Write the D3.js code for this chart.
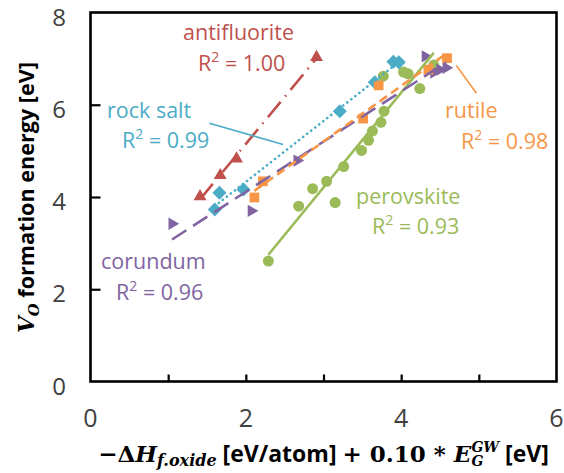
<!DOCTYPE html>
<html><head><meta charset="utf-8">
<script src="https://cdn.jsdelivr.net/npm/d3@7"></script>
<style>body{margin:0;background:#fff}svg{display:block}</style>
</head><body><svg id="c" width="564" height="473"></svg>
<script>
// ---- data ----
const antifluoriteX = [1.41, 1.67, 1.88, 2.91];
const antifluoriteY = [4.01, 4.47, 4.83, 7.03];
const rocksaltX = [1.60, 1.66, 1.97, 3.21, 3.66, 3.90, 3.97];
const rocksaltY = [3.73, 4.09, 4.16, 5.86, 6.49, 6.93, 6.92];
const rutileX = [2.11, 2.22, 3.51, 3.71, 4.35, 4.59];
const rutileY = [3.99, 4.34, 5.70, 6.42, 6.76, 7.01];
const corundumX = [1.05, 2.07, 2.66, 4.31, 4.42, 4.50, 4.58];
const corundumY = [3.42, 3.70, 4.79, 7.05, 6.70, 6.76, 6.80];
const perovskiteX = [2.29, 2.68, 2.86, 3.04, 3.15, 3.26, 3.49, 3.58, 3.63, 3.74, 3.78, 3.77, 4.03, 4.09, 4.24, 4.42];
const perovskiteY = [2.61, 3.80, 4.18, 4.34, 3.88, 4.66, 5.01, 5.23, 5.43, 5.62, 5.86, 6.62, 6.71, 6.67, 6.35, 6.86];
const seriesNames = ["perovskite", "corundum", "rock salt", "antifluorite", "rutile"];
const r2Values = ["0.93", "0.96", "0.99", "1.00", "0.98"];
const xTicks = [0, 1, 2, 3, 4, 5, 6];
const xTickLabels = ["0", "", "2", "", "4", "", "6"];
const yTicks = [0, 2, 4, 6, 8];
const yTickLabels = ["0", "2", "4", "6", "8"];

// ---- layout ----
const L = 90.5, R = 556.5, T = 12.5, B = 381.5;
const svg = d3.select("#c");
const x = d3.scaleLinear().domain([0, 6]).range([L, R]);
const y = d3.scaleLinear().domain([0, 8]).range([B, T]);
const SANS = "'Open Sans', Lato, sans-serif";
const SERIF = "'DejaVu Serif', 'Liberation Serif', serif";

const colors = {perovskite: "#9BBB59", corundum: "#8064A2", "rock salt": "#4BACC6", antifluorite: "#C0504D", rutile: "#F79646"};
const data = {
  perovskite: [perovskiteX, perovskiteY],
  corundum: [corundumX, corundumY],
  "rock salt": [rocksaltX, rocksaltY],
  antifluorite: [antifluoriteX, antifluoriteY],
  rutile: [rutileX, rutileY]
};
const dashes = {perovskite: null, corundum: "17,8", "rock salt": "0.1,5", antifluorite: "20,7,1.5,7", rutile: "9,5"};
const symbols = {
  perovskite: {type: d3.symbolCircle, size: 95, rot: 0},
  corundum: {type: d3.symbolTriangle, size: 66, rot: 90},
  "rock salt": {type: d3.symbolSquare, size: 98, rot: 45},
  antifluorite: {type: d3.symbolTriangle, size: 72, rot: 0},
  rutile: {type: d3.symbolSquare, size: 95, rot: 0}
};

function fit(xs, ys) {
  const mx = d3.mean(xs), my = d3.mean(ys);
  let sxy = 0, sxx = 0;
  xs.forEach((v, i) => { sxy += (v - mx) * (ys[i] - my); sxx += (v - mx) ** 2; });
  const m = sxy / sxx;
  return {m, b: my - m * mx};
}

// markers
seriesNames.forEach(name => {
  const [xs, ys] = data[name];
  const s = symbols[name];
  svg.append("g").selectAll("path").data(xs.map((v, i) => [v, ys[i]])).join("path")
    .attr("d", d3.symbol().type(s.type).size(s.size))
    .attr("transform", d => `translate(${x(d[0])},${y(d[1])}) rotate(${s.rot})`)
    .attr("fill", colors[name]);
});
// trendlines
seriesNames.forEach(name => {
  const [xs, ys] = data[name];
  const f = fit(xs, ys);
  const x0 = d3.min(xs), x1 = d3.max(xs);
  svg.append("line")
    .attr("x1", x(x0)).attr("y1", y(f.m * x0 + f.b))
    .attr("x2", x(x1)).attr("y2", y(f.m * x1 + f.b))
    .attr("stroke", colors[name]).attr("stroke-width", 2.6)
    .attr("stroke-linecap", name === "rock salt" ? "round" : "butt")
    .attr("stroke-dasharray", dashes[name]);
});

// frame + ticks
svg.append("rect").attr("x", L).attr("y", T).attr("width", R - L).attr("height", B - T)
  .attr("fill", "none").attr("stroke", "#000").attr("stroke-width", 2.6);
const xAxis = d3.axisTop(x).tickValues(xTicks.slice(1, -1)).tickSize(7).tickFormat("");
svg.append("g").attr("transform", `translate(0,${B})`).call(xAxis)
  .call(g => { g.select(".domain").remove(); g.selectAll("line").attr("stroke", "#000").attr("stroke-width", 2.2); });
const yAxis = d3.axisRight(y).tickValues(yTicks.slice(1, -1)).tickSize(10).tickFormat("");
svg.append("g").attr("transform", `translate(${L},0)`).call(yAxis)
  .call(g => { g.select(".domain").remove(); g.selectAll("line").attr("stroke", "#000").attr("stroke-width", 2.2); });

// tick labels
svg.append("g").selectAll("text").data(xTicks).join("text")
  .attr("x", d => x(d)).attr("y", 427).attr("text-anchor", "middle")
  .attr("font-family", SANS).attr("font-size", 25).attr("fill", "#404040")
  .text((d, i) => xTickLabels[i]);
svg.append("g").selectAll("text").data(yTicks).join("text")
  .attr("x", 66).attr("y", d => y(d) + 13).attr("text-anchor", "end")
  .attr("font-family", SANS).attr("font-size", 24).attr("fill", "#404040")
  .text((d, i) => yTickLabels[i]);

// series annotations (name line, R² line): left x and baseline y
const ann = {
  antifluorite: [[183, 40], [198, 71]],
  "rock salt": [[107, 118], [122, 148]],
  rutile: [[445, 118], [461, 149]],
  perovskite: [[356, 204], [372, 234]],
  corundum: [[101, 269], [116, 300]]
};
seriesNames.forEach((name, i) => {
  const [p1, p2] = ann[name];
  svg.append("text").attr("x", p1[0]).attr("y", p1[1]).attr("font-family", SANS)
    .attr("font-size", 21.5).attr("fill", colors[name]).text(name);
  const t = svg.append("text").attr("x", p2[0]).attr("y", p2[1]).attr("font-family", SANS)
    .attr("font-size", 21.5).attr("fill", colors[name]);
  t.append("tspan").text("R");
  t.append("tspan").attr("dy", -9).attr("font-size", 14).text("2");
  t.append("tspan").attr("dy", 9).text(" = " + r2Values[i]);
});
// leader lines
svg.append("line").attr("x1", x(1.53)).attr("y1", y(5.6)).attr("x2", x(2.48)).attr("y2", y(5.14))
  .attr("stroke", colors["rock salt"]).attr("stroke-width", 1.6);
svg.append("line").attr("x1", x(4.71)).attr("y1", y(6.85)).attr("x2", x(4.97)).attr("y2", y(6.25))
  .attr("stroke", colors.rutile).attr("stroke-width", 1.6);

// axis titles
const xt = svg.append("text").attr("x", 323.5).attr("y", 462).attr("text-anchor", "middle")
  .attr("font-weight", "bold").attr("font-size", 23).attr("fill", "#000");
xt.append("tspan").attr("font-family", SERIF).text("\u2212\u0394");
xt.append("tspan").attr("font-family", SERIF).attr("font-style", "italic").text("H");
xt.append("tspan").attr("font-family", SERIF).attr("font-style", "italic").attr("font-size", 16).attr("dy", 4).text("f.oxide");
xt.append("tspan").attr("font-family", SANS).attr("dy", -4).text(" [eV/atom] ");
xt.append("tspan").attr("font-family", SERIF).text("+ 0.10 * ");
xt.append("tspan").attr("font-family", SERIF).attr("font-style", "italic").text("E");
const sup = xt.append("tspan").attr("font-family", SERIF).attr("font-style", "italic").attr("font-size", 14).attr("dy", -10).text("GW");
const sub = xt.append("tspan").attr("font-family", SERIF).attr("font-style", "italic").attr("font-size", 14).attr("dy", 14).text("G");
const tail = xt.append("tspan").attr("font-family", SANS).attr("dy", -4).text(" [eV]");
const wSup = sup.node().getComputedTextLength(), wSub = sub.node().getComputedTextLength();
sub.attr("dx", -wSup);
tail.attr("dx", wSup - wSub);

// y title: built at origin, then fitted so that it spans y 62..333 centred at x 26
const yt = svg.append("text").attr("font-weight", "bold").attr("font-size", 22).attr("fill", "#000");
yt.append("tspan").attr("font-family", SERIF).attr("font-style", "italic").text("V");
yt.append("tspan").attr("font-family", SERIF).attr("font-style", "italic").attr("font-size", 15).attr("dy", 5).text("O");
yt.append("tspan").attr("font-family", SANS).attr("dy", -5).text(" formation energy [eV]");
let bb = yt.node().getBBox();
const k = Math.min(1.12, Math.max(0.88, 271 / bb.width));
yt.attr("font-size", 22 * k);
yt.selectAll("tspan").filter((d, i) => i === 1).attr("font-size", 15 * k);
bb = yt.node().getBBox();
yt.attr("transform", `translate(26,197.5) rotate(-90) translate(${-(bb.x + bb.width / 2)},${-(bb.y + bb.height / 2)})`);
</script></body></html>
